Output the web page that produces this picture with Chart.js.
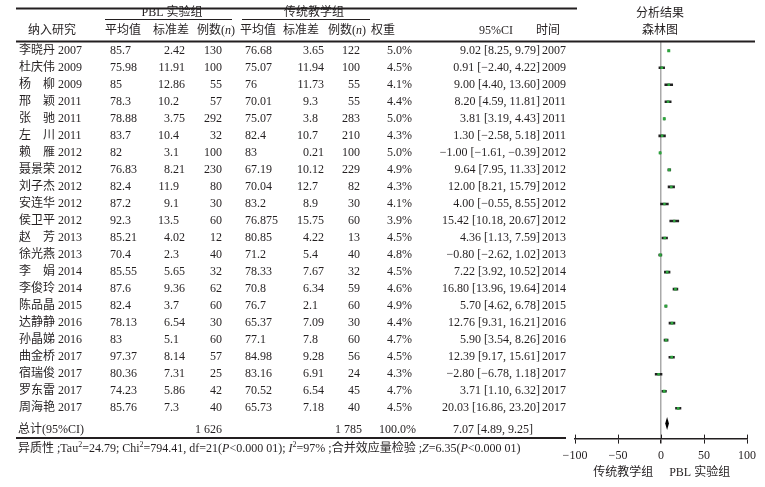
<!DOCTYPE html>
<html>
<head>
<meta charset="utf-8">
<script src="https://cdn.jsdelivr.net/npm/chart.js@4.4.0/dist/chart.umd.min.js"></script>
<style>html,body{margin:0;padding:0;background:#fff}</style>
</head>
<body>
<canvas id="forest" width="765" height="487"></canvas>
<script>
// 数据
const studies = ['李晓丹','杜庆伟','杨　柳','邢　颖','张　驰','左　川','赖　雁','聂景荣','刘子杰','安连华','侯卫平',
  '赵　芳','徐光燕','李　娟','李俊玲','陈品晶','达静静','孙晶娣','曲金桥','宿瑞俊','罗东雷','周海艳'];
const years = [2007,2009,2009,2011,2011,2011,2012,2012,2012,2012,2012,2013,2013,2014,2014,2015,2016,2016,2017,2017,2017,2017];
const pblMean = [85.7,75.98,85,78.3,78.88,83.7,82,76.83,82.4,87.2,92.3,85.21,70.4,85.55,87.6,82.4,78.13,83,97.37,80.36,74.23,85.76];
const pblSd = [2.42,11.91,12.86,10.2,3.75,10.4,3.1,8.21,11.9,9.1,13.5,4.02,2.3,5.65,9.36,3.7,6.54,5.1,8.14,7.31,5.86,7.3];
const pblN = [130,100,55,57,292,32,100,230,80,30,60,12,40,32,62,60,30,60,57,25,42,40];
const ctrlMean = [76.68,75.07,76,70.01,75.07,82.4,83,67.19,70.04,83.2,76.875,80.85,71.2,78.33,70.8,76.7,65.37,77.1,84.98,83.16,70.52,65.73];
const ctrlSd = [3.65,11.94,11.73,9.3,3.8,10.7,0.21,10.12,12.7,8.9,15.75,4.22,5.4,7.67,6.34,2.1,7.09,7.8,9.28,6.91,6.54,7.18];
const ctrlN = [122,100,55,55,283,210,100,229,82,30,60,13,40,32,59,60,30,60,56,24,45,40];
const weight = [5.0,4.5,4.1,4.4,5.0,4.3,5.0,4.9,4.3,4.1,3.9,4.5,4.8,4.5,4.6,4.9,4.4,4.7,4.5,4.3,4.7,4.5];
const md = [9.02,0.91,9.00,8.20,3.81,1.30,-1.00,9.64,12.00,4.00,15.42,4.36,-0.80,7.22,16.80,5.70,12.76,5.90,12.39,-2.80,3.71,20.03];
const ciLo = [8.25,-2.40,4.40,4.59,3.19,-2.58,-1.61,7.95,8.21,-0.55,10.18,1.13,-2.62,3.92,13.96,4.62,9.31,3.54,9.17,-6.78,1.10,16.86];
const ciHi = [9.79,4.22,13.60,11.81,4.43,5.18,-0.39,11.33,15.79,8.55,20.67,7.59,1.02,10.52,19.64,6.78,16.21,8.26,15.61,1.18,6.32,23.20];
const totals = { pblN: '1 626', ctrlN: '1 785', weight: '100.0%' };
const pooled = [7.07, 4.89, 9.25]; // 合并效应 [MD, 下限, 上限]
const xTicks = [-100, -50, 0, 50, 100];

const TOTAL_ROW = 22.25;
const FONT = '12px "Liberation Serif", "Noto Sans CJK SC", serif';
const INK = '#231f20';
const neg = s => s.replace(/-/g, '\u2212');
const f2 = v => neg(v.toFixed(2));

function fontFor(st) {
  if (st === 'i') return 'italic ' + FONT;
  if (st === 'sup') return '8px "Liberation Serif", serif';
  return FONT;
}
// 混排文字（斜体/上标）
function parts(ctx, x, y, list, align) {
  const w = list.map(p => { ctx.font = fontFor(p[1]); return ctx.measureText(p[0]).width; });
  let cx = align === 'center' ? x - w.reduce((a, b) => a + b, 0) / 2 : x;
  ctx.textAlign = 'left';
  list.forEach((p, k) => {
    ctx.font = fontFor(p[1]);
    ctx.fillText(p[0], cx, p[1] === 'sup' ? y - 4 : y);
    cx += w[k];
  });
  ctx.font = FONT;
}
// 小数点对齐
function dec(ctx, v, x, y) {
  const s = String(v), k = s.indexOf('.');
  ctx.textAlign = 'right'; ctx.fillText(k < 0 ? s : s.slice(0, k), x, y);
  ctx.textAlign = 'left'; ctx.fillText(k < 0 ? '' : s.slice(k), x, y);
}
function txt(ctx, s, x, y, align) { ctx.textAlign = align || 'left'; ctx.fillText(s, x, y); }

const tablePlugin = {
  id: 'table',
  afterDraw(chart) {
    const { ctx, scales: { x, y } } = chart;
    ctx.save();
    ctx.fillStyle = INK; ctx.strokeStyle = INK;
    ctx.textBaseline = 'middle'; ctx.font = FONT;

    const hl = (x0, x1, yy, w) => { ctx.lineWidth = w; ctx.beginPath(); ctx.moveTo(x0, yy); ctx.lineTo(x1, yy); ctx.stroke(); };
    hl(16, 577, 8.5, 2); hl(105, 232, 19.5, 1); hl(242, 370, 19.5, 1);
    hl(16, 755, 41.5, 2); hl(16, 566, 438, 2);

    // 表头
    txt(ctx, 'PBL 实验组', 172, 13, 'center');
    txt(ctx, '传统教学组', 314, 13, 'center');
    txt(ctx, '分析结果', 660, 14, 'center');
    txt(ctx, '森林图', 660, 31, 'center');
    const hy = 31;
    txt(ctx, '纳入研究', 52, hy, 'center');
    txt(ctx, '平均值', 123, hy, 'center');
    txt(ctx, '标准差', 171, hy, 'center');
    parts(ctx, 216, hy, [['例数(', ''], ['n', 'i'], [')', '']], 'center');
    txt(ctx, '平均值', 258, hy, 'center');
    txt(ctx, '标准差', 301, hy, 'center');
    parts(ctx, 347, hy, [['例数(', ''], ['n', 'i'], [')', '']], 'center');
    txt(ctx, '权重', 383, hy, 'center');
    txt(ctx, '95%CI', 496, hy, 'center');
    txt(ctx, '时间', 548, hy, 'center');

    // 各研究行
    studies.forEach((name, i) => {
      const yy = y.getPixelForValue(i);
      txt(ctx, name, 19, yy);
      txt(ctx, String(years[i]), 58, yy);
      txt(ctx, String(pblMean[i]), 110, yy);
      dec(ctx, pblSd[i], 170, yy);
      txt(ctx, String(pblN[i]), 222, yy, 'right');
      txt(ctx, String(ctrlMean[i]), 245, yy);
      dec(ctx, ctrlSd[i], 309, yy);
      txt(ctx, String(ctrlN[i]), 360, yy, 'right');
      txt(ctx, weight[i].toFixed(1) + '%', 412, yy, 'right');
      txt(ctx, `${f2(md[i])} [${f2(ciLo[i])}, ${f2(ciHi[i])}]`, 540, yy, 'right');
      txt(ctx, String(years[i]), 566, yy, 'right');
    });

    // 合计
    const ty = y.getPixelForValue(TOTAL_ROW);
    txt(ctx, '总计(95%CI)', 18, ty);
    txt(ctx, totals.pblN, 222, ty, 'right');
    txt(ctx, totals.ctrlN, 362, ty, 'right');
    txt(ctx, totals.weight, 416, ty, 'right');
    txt(ctx, `${f2(pooled[0])} [${f2(pooled[1])}, ${f2(pooled[2])}]`, 533, ty, 'right');

    // 合并效应菱形
    const dy = ty - 6;
    ctx.fillStyle = '#000';
    ctx.beginPath();
    ctx.moveTo(x.getPixelForValue(pooled[1]), dy);
    ctx.lineTo(x.getPixelForValue(pooled[0]), dy - 6.5);
    ctx.lineTo(x.getPixelForValue(pooled[2]), dy);
    ctx.lineTo(x.getPixelForValue(pooled[0]), dy + 6.5);
    ctx.closePath(); ctx.fill();
    ctx.fillStyle = INK;

    // 刻度向上的部分
    const ab = chart.chartArea.bottom;
    ctx.lineWidth = 1;
    xTicks.forEach(v => { const px = Math.round(x.getPixelForValue(v)) + 0.5; ctx.beginPath(); ctx.moveTo(px, ab - 4); ctx.lineTo(px, ab); ctx.stroke(); });

    // 轴下标签
    txt(ctx, '传统教学组', x.getPixelForValue(-44), 473, 'center');
    txt(ctx, 'PBL 实验组', x.getPixelForValue(45), 473, 'center');

    // 异质性
    parts(ctx, 18, 449, [['异质性 ;Tau', ''], ['2', 'sup'], ['=24.79; Chi', ''], ['2', 'sup'],
      ['=794.41, df=21(', ''], ['P', 'i'], ['<0.000 01); ', ''], ['I', 'i'], ['2', 'sup'],
      ['=97% ;合并效应量检验 ;', ''], ['Z', 'i'], ['=6.35(', ''], ['P', 'i'], ['<0.000 01)', '']]);
    ctx.restore();
  }
};

new Chart(document.getElementById('forest'), {
  type: 'scatter',
  data: {
    datasets: [
      {
        type: 'scatter', order: 0,
        data: md.map((v, i) => ({ x: v, y: i })),
        pointStyle: 'rect',
        pointRadius: c => weight[c.dataIndex] * 0.42,
        backgroundColor: '#2ca53c', borderWidth: 0
      },
      {
        type: 'bar', order: 1, indexAxis: 'y',
        data: md.map((v, i) => ({ x: [ciLo[i], ciHi[i]], y: i })),
        backgroundColor: '#222', barThickness: 2, borderWidth: 0
      }
    ]
  },
  options: {
    responsive: false,
    animation: false,
    layout: { padding: { left: 575, right: 18, top: 41, bottom: 19 } },
    plugins: { legend: { display: false }, tooltip: { enabled: false } },
    scales: {
      x: {
        type: 'linear', min: -100, max: 100, offset: false, beginAtZero: false,
        afterBuildTicks: s => { s.ticks = xTicks.map(v => ({ value: v })); },
        ticks: { color: INK, font: { family: '"Liberation Serif", serif', size: 12 }, padding: 5, callback: v => neg(String(v)) },
        grid: {
          offset: false, drawOnChartArea: true, tickLength: 5, tickColor: INK,
          color: c => (c.tick && c.tick.value === 0) ? '#aaaaaa' : 'rgba(0,0,0,0)',
          lineWidth: c => (c.tick && c.tick.value === 0) ? 1.5 : 1
        },
        border: { display: true, color: INK, width: 1.5 }
      },
      y: { type: 'linear', display: false, reverse: true, offset: false, grid: { offset: false }, min: -0.57, max: 22.78 }
    }
  },
  plugins: [tablePlugin]
});
</script>
</body>
</html>
